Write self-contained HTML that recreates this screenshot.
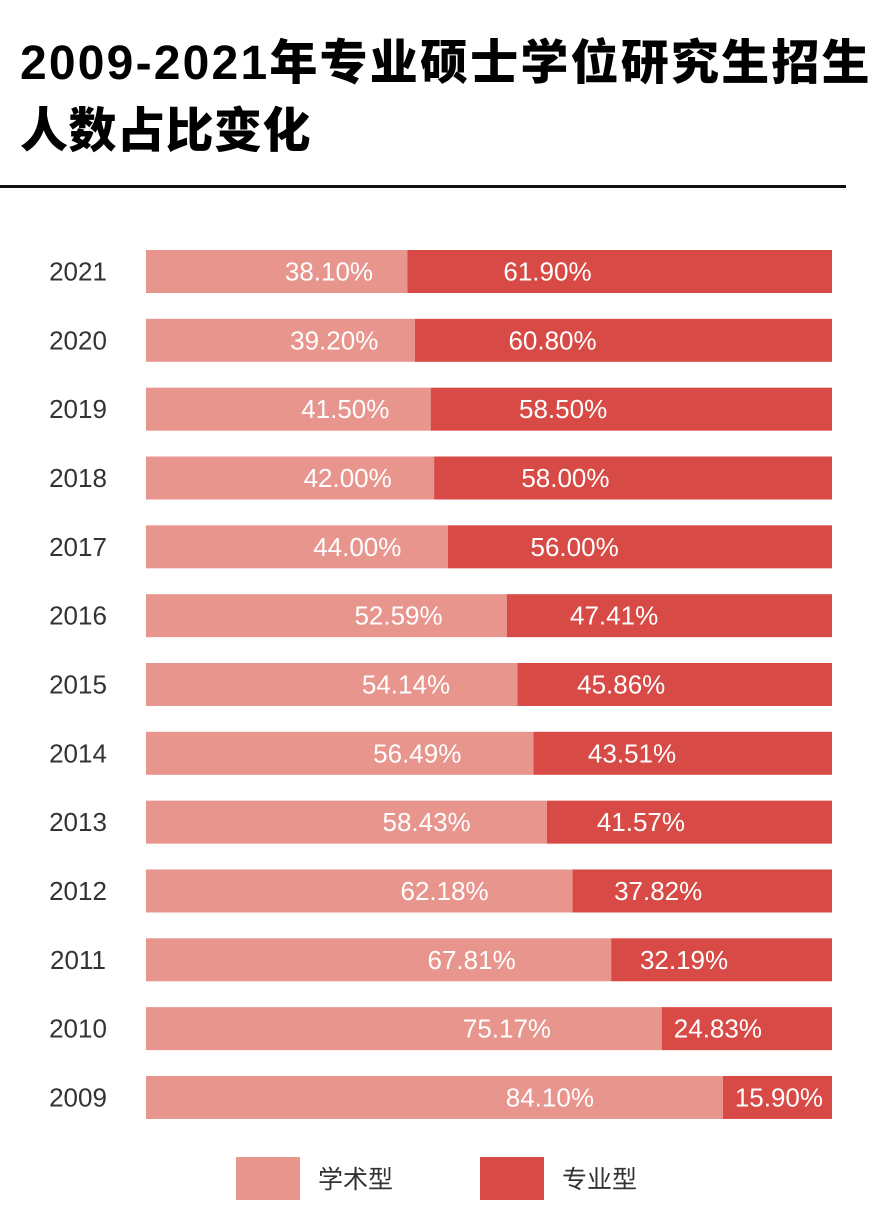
<!DOCTYPE html>
<html><head><meta charset="utf-8"><style>
body{margin:0;background:#fff;width:888px;height:1216px;overflow:hidden;font-family:"Liberation Sans","Noto Sans CJK SC",sans-serif}
.t{position:absolute;left:20px;font-size:48px;font-weight:900;color:#000;letter-spacing:2.2px;white-space:nowrap;font-family:"Liberation Sans","Noto Sans CJK SC",sans-serif;line-height:1}
</style></head><body>
<div class="t" style="top:40px">2009-2021年专业硕士学位研究生招生</div>
<div class="t" style="top:108px;letter-spacing:0.5px">人数占比变化</div>
<div style="position:absolute;left:0;top:185px;width:846px;height:3px;background:#111"></div>
<svg id="chart" width="888" height="1216" style="position:absolute;left:0;top:0"></svg>
<script>
const years=["2021","2020","2019","2018","2017","2016","2015","2014","2013","2012","2011","2010","2009"];
const academic=[38.10,39.20,41.50,42.00,44.00,52.59,54.14,56.49,58.43,62.18,67.81,75.17,84.10];
const professional=[61.90,60.80,58.50,58.00,56.00,47.41,45.86,43.51,41.57,37.82,32.19,24.83,15.90];
const legendLabels=["学术型","专业型"];
const svg=document.getElementById('chart');
const NS="http://www.w3.org/2000/svg";
const X0=146,X1=832,Y0=250,STEP=68.83,BH=43;
const light="#e8958e",dark="#d84a45";
const xs=v=>X0+(X1-X0)*v/100;
const yb=i=>Y0+i*STEP;
function mk(t,a){const e=document.createElementNS(NS,t);for(const k in a)e.setAttribute(k,a[k]);svg.appendChild(e);return e;}
years.forEach((y,i)=>{
  const top=yb(i),xm=xs(academic[i]),xe=xs(academic[i]+professional[i]);
  const yl=mk('text',{x:78,y:top+BH/2+9,'text-anchor':'middle','font-size':26,fill:'#333'});yl.textContent=y;
  
  
  const r1=mk('rect',{x:X0,y:top,width:xm-X0,height:BH,fill:light});
  
  
  const r2=mk('rect',{x:xm,y:top,width:xe-xm,height:BH,fill:dark});
  
  
  const w1=xm-X0,w2=xe-xm;
  const t1=mk('text',{x:X0+w1*0.70,y:top+BH/2+9,'text-anchor':'middle','font-size':26,fill:'#fff'});t1.textContent=academic[i].toFixed(2)+'%';
  
  
  const cx2=Math.max(xm+w2*0.33,xm+56);
  const t2=mk('text',{x:cx2,y:top+BH/2+9,'text-anchor':'middle','font-size':26,fill:'#fff'});t2.textContent=professional[i].toFixed(2)+'%';
  
  
});
[[236,light],[480,dark]].forEach((p,k)=>{
  const s=mk('rect',{x:p[0],y:1157,width:64,height:43,fill:p[1]});
  
  
  const t=mk('text',{x:p[0]+82,y:1188,'font-size':25,fill:'#333'});t.textContent=legendLabels[k];
  
  
});
</script>
</body></html>
